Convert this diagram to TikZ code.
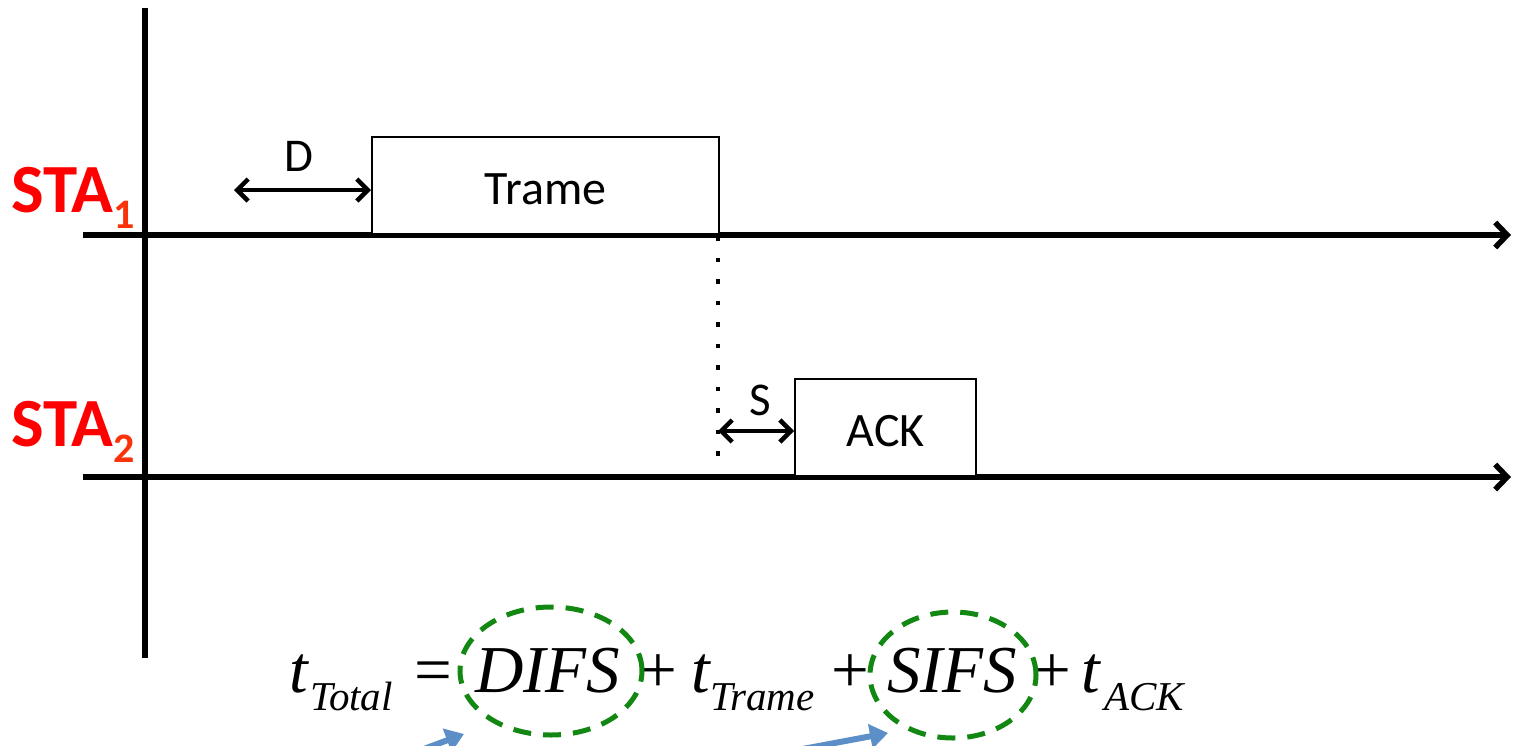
\documentclass[tikz,border=0pt]{standalone}
\usepackage{fontspec}
\setmainfont{Carlito}
\newfontfamily\eqfont{Liberation Serif}
\usetikzlibrary{arrows.meta}

\definecolor{stared}{RGB}{255,0,0}
\definecolor{stasub}{RGB}{250,50,10}
\definecolor{ringgreen}{RGB}{18,136,18}
\definecolor{pointerblue}{RGB}{92,143,200}

\newcommand\eqbig{\eqfont\fontsize{67pt}{70pt}\selectfont}
\newcommand\eqsmall{\eqfont\fontsize{41pt}{44pt}\selectfont\itshape}

\tikzset{
  timeline/.style={line width=5.5pt, -{Straight Barb[length=12pt,width=25pt]}},
  vaxis/.style={line width=5.5pt},
  framebox/.style={draw=black, line width=2.2pt, fill=white, inner sep=0pt,
    text height=38pt, text depth=0pt,
    font=\fontsize{48pt}{50pt}\selectfont},
  gap/.style={line width=4.5pt, {Straight Barb[length=11pt,width=22pt]}-{Straight Barb[length=11pt,width=22pt]}},
  gaplabel/.style={inner sep=0pt, font=\fontsize{47pt}{50pt}\selectfont},
  stalabel/.style={inner sep=0pt, text=stared, font=\bfseries\fontsize{69pt}{69pt}\selectfont},
  eqpart/.style={inner sep=0pt, outer sep=0pt, anchor=base west},
  ring/.style={draw=ringgreen, line width=5pt, dash pattern=on 18pt off 12pt},
  pointer/.style={draw=pointerblue, line width=6pt, -{Triangle[length=18pt,width=24pt]}},
  dotline/.style={line width=4.5pt, dash pattern=on 4.5pt off 17pt}
}

\begin{document}
\begin{tikzpicture}[x=1pt,y=-1pt]
\useasboundingbox (0,0) rectangle (1513,745);

% time axes
\coordinate (vtop) at (145,8);
\coordinate (vbot) at (145,658);
\coordinate (l1s) at (83,235);
\coordinate (l1e) at (1511,235);
\coordinate (l2s) at (83,477);
\coordinate (l2e) at (1511,477);
\draw[vaxis] (vtop) -- (vbot);
\draw[timeline] (l1s) -- (l1e);
\draw[timeline] (l2s) -- (l2e);

% station names
\node[stalabel, anchor=base west] (sta1) at (11,212)
  {STA\textcolor{stasub}{\fontsize{42pt}{42pt}\selectfont\raisebox{-16pt}{1}}};
\node[stalabel, anchor=base west] (sta2) at (11,446)
  {STA\textcolor{stasub}{\fontsize{42pt}{42pt}\selectfont\raisebox{-16pt}{2}}};

% frames
\node[framebox, minimum width=347pt, minimum height=97pt, anchor=south west]
  (trame) at (371,235) {Trame};
\node[framebox, minimum width=181pt, minimum height=97pt, anchor=south west]
  (ack) at (794,477) {ACK};

% DIFS gap
\coordinate (dstart) at (234,190);
\draw[gap] (dstart) -- (trame.west |- dstart);
\node[gaplabel] (dlab) at (299,156) {D};

% end of frame, SIFS gap
\coordinate (ftop) at (718,236);
\coordinate (fbot) at (718,457);
\draw[dotline] (ftop) -- (fbot);
\coordinate (sstart) at (718,431);
\draw[gap] (sstart) -- (ack.west |- sstart);
\node[gaplabel] (slab) at (760,400) {S};

% total time formula
\node[eqpart] (t0) at (289,692) {\eqbig\itshape t};
\node[eqpart] (s0) at (310,710) {\eqsmall Total};
\node[eqpart] (eq) at (414,692) {\eqbig =};
\node[eqpart] (difs) at (475,692) {\eqbig\itshape DIFS};
\node[eqpart] (p1) at (639,692) {\eqbig +};
\node[eqpart] (t1) at (691,692) {\eqbig\itshape t};
\node[eqpart] (s1) at (710,710) {\eqsmall Trame};
\node[eqpart] (p2) at (831,692) {\eqbig +};
\node[eqpart] (sifs) at (887,692) {\eqbig\itshape SIFS};
\node[eqpart] (p3) at (1033,692) {\eqbig +};
\node[eqpart] (t2) at (1081,692) {\eqbig\itshape t};
\node[eqpart] (s2) at (1104,710) {\eqsmall ACK};

% highlighted interframe spaces
\draw[ring] (551,671) ellipse [x radius=91pt, y radius=64pt];
\draw[ring] (953,675) ellipse [x radius=83pt, y radius=63pt];

% pointers towards the highlighted terms
\begin{scope}
  \clip (0,0) rectangle (1513,745);
  \coordinate (a1s) at (405,756);
  \coordinate (a1e) at (464,734);
  \coordinate (a2s) at (760,757);
  \coordinate (a2e) at (888,733);
  \draw[pointer] (a1s) -- (a1e);
  \draw[pointer] (a2s) -- (a2e);
\end{scope}
\end{tikzpicture}
\end{document}
